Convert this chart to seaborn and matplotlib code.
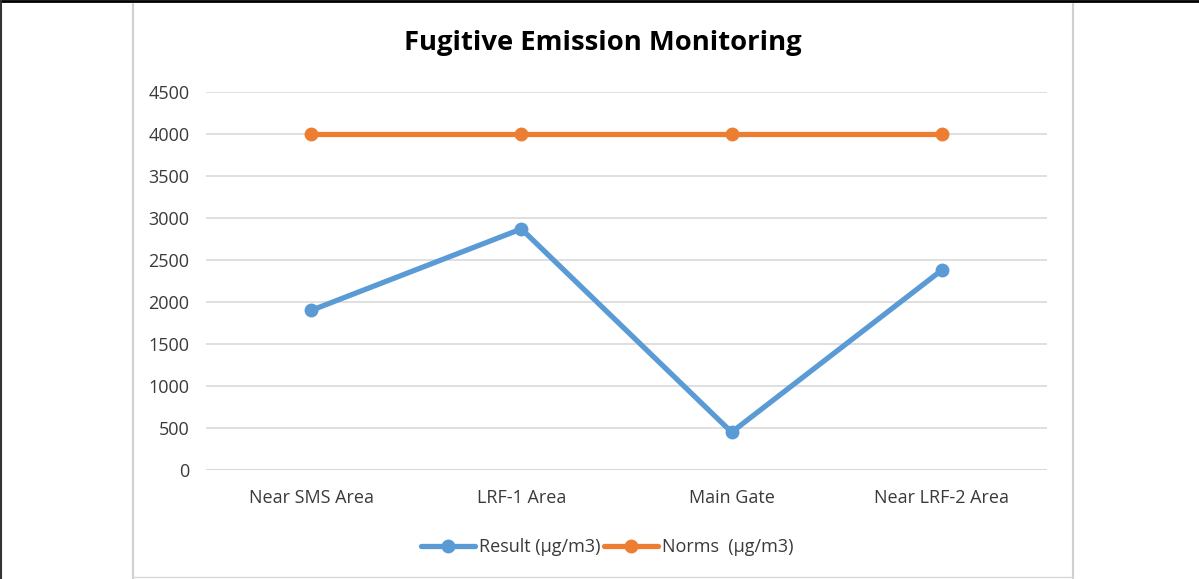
import matplotlib
matplotlib.use("Agg")
import matplotlib.pyplot as plt
import pandas as pd
import seaborn as sns
from matplotlib.lines import Line2D

# data
locations = ["Near SMS Area", "LRF-1 Area", "Main Gate", "Near LRF-2 Area"]
result = [1900, 2870, 450, 2380]
norms = [4000, 4000, 4000, 4000]
series_names = ["Result (µg/m3)", "Norms  (µg/m3)"]
yticks = list(range(0, 4501, 500))

df = pd.DataFrame({
    "Location": locations * 2,
    "Value": result + norms,
    "Series": [series_names[0]] * 4 + [series_names[1]] * 4,
})

sns.set_style("white")
plt.rcParams["font.family"] = ["Open Sans", "DejaVu Sans"]

palette = {series_names[0]: "#5B9BD5", series_names[1]: "#ED7D31"}

fig = plt.figure(figsize=(11.99, 5.79), dpi=100)
ax = fig.add_axes([206 / 1199, 1 - 470 / 579, (1047 - 206) / 1199, (470 - 92) / 579])

sns.lineplot(data=df, x="Location", y="Value", hue="Series", palette=palette,
             marker="o", markersize=10, markeredgewidth=0, linewidth=3.8,
             sort=False, ax=ax, legend=False)

ax.set_xlim(-0.5, len(locations) - 0.5)
ax.set_ylim(0, 4500)
ax.set_yticks(yticks)
ax.set_yticklabels([str(t) for t in yticks], fontsize=13, color="#3A3A3A")
ax.tick_params(axis="x", labelsize=13, labelcolor="#3A3A3A", pad=14, length=0)
ax.tick_params(axis="y", pad=12, length=0)
ax.set_xlabel("")
ax.set_ylabel("")
ax.yaxis.grid(True, color="#D9D9D9", linewidth=1.2)
ax.set_axisbelow(True)
for s in ax.spines.values():
    s.set_visible(False)
ax.axhline(0, color="#D9D9D9", linewidth=1.5, zorder=0)

fig.text(603 / 1199, 1 - 43 / 579, "Fugitive Emission Monitoring",
         ha="center", va="center", fontsize=19.7, fontweight="bold", color="black")

handles = [Line2D([0], [0], color=palette[n], linewidth=3.8, marker="o",
                  markersize=10, markeredgewidth=0) for n in series_names]
fig.legend(handles, series_names, loc="center", bbox_to_anchor=(607 / 1199, 1 - 547 / 579),
           ncol=2, frameon=False, fontsize=13, handlelength=3, columnspacing=0.2,
           handletextpad=0.2, labelcolor="#3A3A3A")

# chart frame and window edges
fig.add_artist(Line2D([133 / 1199, 133 / 1199], [0, 1 - 4 / 579], transform=fig.transFigure, color="#D0D0D0", linewidth=1.5))
fig.add_artist(Line2D([1073 / 1199, 1073 / 1199], [0, 1 - 4 / 579], transform=fig.transFigure, color="#D0D0D0", linewidth=1.5))
fig.add_artist(Line2D([133 / 1199, 1073 / 1199], [1 - 577 / 579, 1 - 577 / 579], transform=fig.transFigure, color="#D9D9D9", linewidth=1))
fig.add_artist(Line2D([0, 1], [1 - 1 / 579, 1 - 1 / 579], transform=fig.transFigure, color="black", linewidth=2))
fig.add_artist(Line2D([0.5 / 1199, 0.5 / 1199], [0, 1], transform=fig.transFigure, color="#333333", linewidth=1.5))

fig.savefig("out.png", dpi=100)
